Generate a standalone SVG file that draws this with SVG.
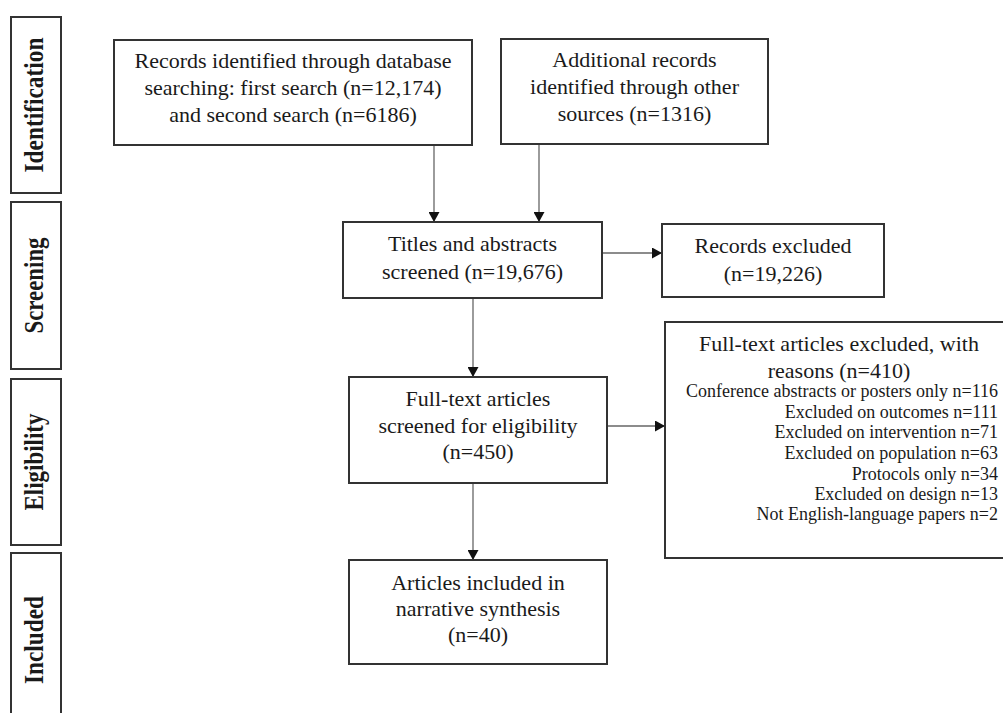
<svg xmlns="http://www.w3.org/2000/svg" width="1003" height="713" viewBox="0 0 1003 713">
<defs>
<style>
.box{fill:#fff;stroke:#333;stroke-width:2}
.side{fill:#fff;stroke:#333;stroke-width:2}
.t{font-family:"Liberation Serif","Times New Roman",serif;font-size:22px;fill:#1a1a1a;text-anchor:middle}
.s{font-family:"Liberation Serif","Times New Roman",serif;font-size:18px;fill:#1a1a1a;text-anchor:end}
.lab{font-family:"Liberation Serif","Times New Roman",serif;font-size:27px;font-weight:bold;fill:#1a1a1a;text-anchor:middle}
.c{stroke:#666;stroke-width:1.3;fill:none;marker-end:url(#ah)}
</style>
<marker id="ah" markerUnits="userSpaceOnUse" markerWidth="11" markerHeight="11" refX="10" refY="5.5" orient="auto">
<path d="M0,0 L10,5.5 L0,11 Z" fill="#111"/>
</marker>
</defs>
<rect width="1003" height="713" fill="#fff"/>

<g id="phase-identification">
<rect class="side" x="11" y="17" width="50" height="176"/>
<text class="lab" transform="translate(43,105) rotate(-90)" textLength="135" lengthAdjust="spacingAndGlyphs">Identification</text>
</g>
<g id="phase-screening">
<rect class="side" x="11" y="202" width="50" height="167"/>
<text class="lab" transform="translate(43,285.5) rotate(-90)" textLength="96" lengthAdjust="spacingAndGlyphs">Screening</text>
</g>
<g id="phase-eligibility">
<rect class="side" x="11" y="379" width="50" height="166"/>
<text class="lab" transform="translate(43,462) rotate(-90)" textLength="97" lengthAdjust="spacingAndGlyphs">Eligibility</text>
</g>
<g id="phase-included">
<rect class="side" x="11" y="553" width="50" height="180"/>
<text class="lab" transform="translate(43,640) rotate(-90)" textLength="88" lengthAdjust="spacingAndGlyphs">Included</text>
</g>

<g id="connectors">
<line class="c" x1="434" y1="145" x2="434" y2="222"/>
<line class="c" x1="539" y1="144" x2="539" y2="222"/>
<line class="c" x1="602" y1="253" x2="662" y2="253"/>
<line class="c" x1="473" y1="298" x2="473" y2="377"/>
<line class="c" x1="607" y1="426" x2="665" y2="426"/>
<line class="c" x1="473" y1="483" x2="473" y2="560"/>
</g>

<g id="records-database">
<rect class="box" x="114" y="40" width="358" height="105"/>
<text class="t" x="293" y="68">Records identified through database</text>
<text class="t" x="293" y="95">searching: first search (n=12,174)</text>
<text class="t" x="293" y="122">and second search (n=6186)</text>
</g>
<g id="records-other">
<rect class="box" x="501" y="39" width="267" height="105"/>
<text class="t" x="634.5" y="67">Additional records</text>
<text class="t" x="634.5" y="94">identified through other</text>
<text class="t" x="634.5" y="121">sources (n=1316)</text>
</g>
<g id="titles-screened">
<rect class="box" x="343" y="222" width="259" height="76"/>
<text class="t" x="472.5" y="251">Titles and abstracts</text>
<text class="t" x="472.5" y="279">screened (n=19,676)</text>
</g>
<g id="records-excluded">
<rect class="box" x="662" y="224" width="222" height="73"/>
<text class="t" x="773" y="253">Records excluded</text>
<text class="t" x="773" y="281">(n=19,226)</text>
</g>
<g id="fulltext-screened">
<rect class="box" x="349" y="377" width="258" height="106"/>
<text class="t" x="478" y="406">Full-text articles</text>
<text class="t" x="478" y="433">screened for eligibility</text>
<text class="t" x="478" y="459">(n=450)</text>
</g>
<g id="fulltext-excluded">
<rect class="box" x="665" y="322" width="350" height="236"/>
<text class="t" x="839" y="351">Full-text articles excluded, with</text>
<text class="t" x="839" y="378">reasons (n=410)</text>
<text class="s" x="998" y="397">Conference abstracts or posters only n=116</text>
<text class="s" x="998" y="418">Excluded on outcomes n=111</text>
<text class="s" x="998" y="438">Excluded on intervention n=71</text>
<text class="s" x="998" y="459">Excluded on population n=63</text>
<text class="s" x="998" y="480">Protocols only n=34</text>
<text class="s" x="998" y="500">Excluded on design n=13</text>
<text class="s" x="998" y="520">Not English-language papers n=2</text>
</g>
<g id="included">
<rect class="box" x="349" y="560" width="258" height="104"/>
<text class="t" x="478" y="590">Articles included in</text>
<text class="t" x="478" y="616">narrative synthesis</text>
<text class="t" x="478" y="642">(n=40)</text>
</g>
</svg>
